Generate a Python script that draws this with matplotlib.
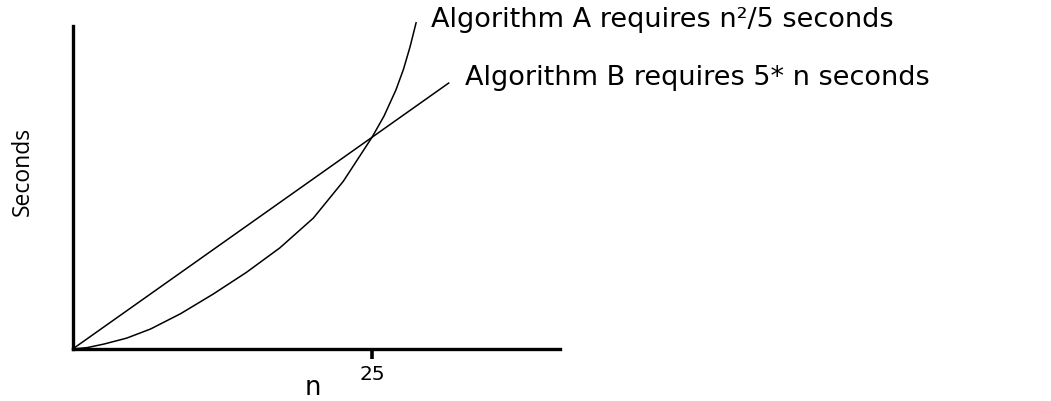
import matplotlib.pyplot as plt

# Algorithm A: quadratic growth (n, seconds)
n_a = [0, 1.2, 2.6, 4.5, 6.5, 9.0, 11.75, 14.5, 17.3, 20.1, 22.6,
       25.0, 26.0, 27.0, 27.62, 28.18, 28.68]
sec_a = [0, 0.8, 2.9, 6.4, 11.8, 20.8, 32.5, 45.2, 59.7, 77.3, 99.0,
         125.0, 137.5, 153.0, 165.0, 178.5, 192.6]

# Algorithm B: linear growth
n_b = [0, 31.4]
sec_b = [0, 157.0]

tick_n = [25]
tick_labels = ["25"]

label_a = "Algorithm A requires n\u00b2/5 seconds"
label_b = "Algorithm B requires 5* n seconds"

plt.rcParams['font.family'] = ['DejaVu Sans']

fig = plt.figure(figsize=(10.51, 4.02), dpi=100)
ax = fig.add_axes([72.7 / 1051, 52 / 402, 487.3 / 1051, 323 / 402])

ax.plot(n_a, sec_a, color='black', lw=1.1, clip_on=False)
ax.plot(n_b, sec_b, color='black', lw=1.1, clip_on=False)

ax.set_xlim(0, 40.7)
ax.set_ylim(0, 190.7)

for side in ['top', 'right']:
    ax.spines[side].set_visible(False)
for side in ['left', 'bottom']:
    ax.spines[side].set_linewidth(2.4)

ax.set_yticks([])
ax.set_xticks(tick_n)
ax.set_xticklabels(tick_labels, fontsize=14.5)
ax.tick_params(axis='x', direction='out', length=7, width=2.6, pad=4)

# axis titles placed in figure pixels
fig.text(313 / 1051, 1 - 388 / 402, "n", fontsize=18.5, ha='center', va='center')
fig.text(23 / 1051, 1 - 171 / 402, "Seconds", fontsize=16.5, rotation=90,
         ha='center', va='center', family=['Open Sans', 'DejaVu Sans'])

fig.text(431 / 1051, 1 - 20 / 402, label_a, fontsize=19.5, va='center', ha='left')
fig.text(465 / 1051, 1 - 78 / 402, label_b, fontsize=19.5, va='center', ha='left')

plt.savefig('out.png', dpi=100)
